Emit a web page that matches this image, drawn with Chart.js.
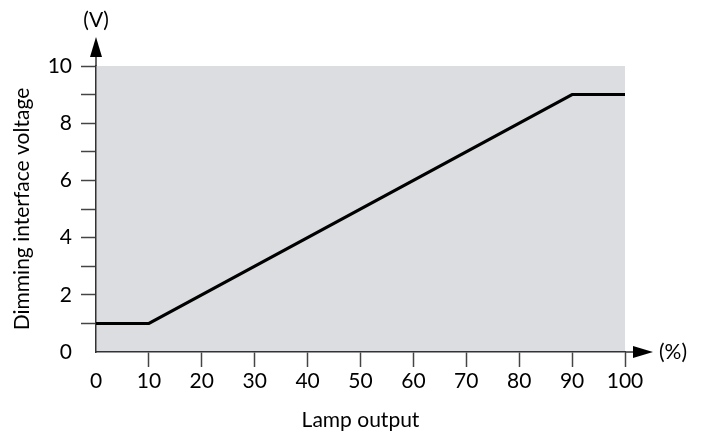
<!DOCTYPE html>
<html>
<head>
<meta charset="utf-8">
<script src="https://cdn.jsdelivr.net/npm/chart.js@4.4.1/dist/chart.umd.min.js"></script>
<style>
  body { margin: 0; background: #fff; }
  #wrap { width: 704px; height: 434px; }
</style>
</head>
<body>
<div id="wrap"><canvas id="myChart" width="704" height="434"></canvas></div>
<script>
var lampOutput = [0, 10, 90, 100];
var voltage = [1, 1, 9, 9];
var xTitle = "Lamp output";
var yTitle = "Dimming interface voltage";
var xUnit = "(%)";
var yUnit = "(V)";

var font = "Lato, 'Open Sans', sans-serif";
var axisColor = "#333";

var points = [];
for (var i = 0; i < lampOutput.length; i++) {
    points.push({x: lampOutput[i], y: voltage[i]});
}

// grey plot background, axis arrows and units
var decor = {
    id: "decor",
    beforeDraw: function(chart) {
        var a = chart.chartArea;
        var ctx = chart.ctx;
        ctx.save();
        ctx.fillStyle = "#dcdde0";
        ctx.fillRect(a.left, a.top, a.right - a.left, a.bottom - a.top);
        ctx.restore();
    },
    afterDraw: function(chart) {
        var a = chart.chartArea;
        var ctx = chart.ctx;
        ctx.save();
        ctx.strokeStyle = axisColor;
        ctx.fillStyle = "#000";
        ctx.lineWidth = 1.5;
        // y arrow
        ctx.beginPath();
        ctx.moveTo(a.left, a.top);
        ctx.lineTo(a.left, a.top - 12);
        ctx.stroke();
        ctx.beginPath();
        ctx.moveTo(a.left, a.top - 29);
        ctx.lineTo(a.left - 6, a.top - 9);
        ctx.lineTo(a.left + 6, a.top - 9);
        ctx.closePath();
        ctx.fill();
        // x arrow
        ctx.beginPath();
        ctx.moveTo(a.right, a.bottom);
        ctx.lineTo(a.right + 12, a.bottom);
        ctx.stroke();
        ctx.beginPath();
        ctx.moveTo(a.right + 28, a.bottom);
        ctx.lineTo(a.right + 8, a.bottom - 6);
        ctx.lineTo(a.right + 8, a.bottom + 6);
        ctx.closePath();
        ctx.fill();
        // units
        ctx.font = "21px " + font;
        ctx.textAlign = "center";
        ctx.textBaseline = "middle";
        ctx.fillText(yUnit, a.left, a.top - 46);
        ctx.textAlign = "left";
        ctx.fillText(xUnit, a.right + 34, a.bottom);
        ctx.restore();
    }
};

var ctx = document.getElementById("myChart").getContext("2d");
var myChart = new Chart(ctx, {
    type: "scatter",
    data: {
        datasets: [{
            data: points,
            showLine: true,
            borderColor: "#000",
            borderWidth: 3,
            pointRadius: 0,
            fill: false,
            lineTension: 0
        }]
    },
    options: {
        responsive: false,
        animation: false,
        layout: { padding: { top: 66, right: 79, left: 0, bottom: 0 } },
        plugins: {
            legend: { display: false },
            tooltip: { enabled: false }
        },
        scales: {
            x: {
                type: "linear",
                min: 0,
                max: 100,
                afterFit: function(s) { s.height = 82; },
                border: { color: axisColor, width: 1.5 },
                grid: {
                    drawOnChartArea: false,
                    drawTicks: true,
                    tickLength: 15,
                    tickWidth: 1.5,
                    tickColor: function(c) { return c.tick.value === 0 ? "rgba(0,0,0,0)" : "#444"; }
                },
                ticks: {
                    stepSize: 10,
                    padding: 2,
                    color: "#000",
                    font: { family: font, size: 21 }
                },
                title: {
                    display: true,
                    text: xTitle,
                    color: "#000",
                    font: { family: font, size: 21 },
                    padding: { top: 0, bottom: 1 }
                }
            },
            y: {
                type: "linear",
                min: 0,
                max: 10,
                afterFit: function(s) { s.width = 96; },
                border: { color: axisColor, width: 1.5 },
                grid: {
                    drawOnChartArea: false,
                    drawTicks: true,
                    tickLength: 15,
                    tickWidth: 1.5,
                    tickColor: function(c) { return c.tick.value === 0 ? "rgba(0,0,0,0)" : "#444"; }
                },
                ticks: {
                    stepSize: 1,
                    padding: 9,
                    color: "#000",
                    font: { family: font, size: 21 },
                    callback: function(v) { return v % 2 === 0 ? v : ""; }
                },
                title: {
                    display: true,
                    text: yTitle,
                    color: "#000",
                    font: { family: font, size: 21 },
                    padding: { top: 10, bottom: 0 }
                }
            }
        }
    },
    plugins: [decor]
});
</script>
</body>
</html>
